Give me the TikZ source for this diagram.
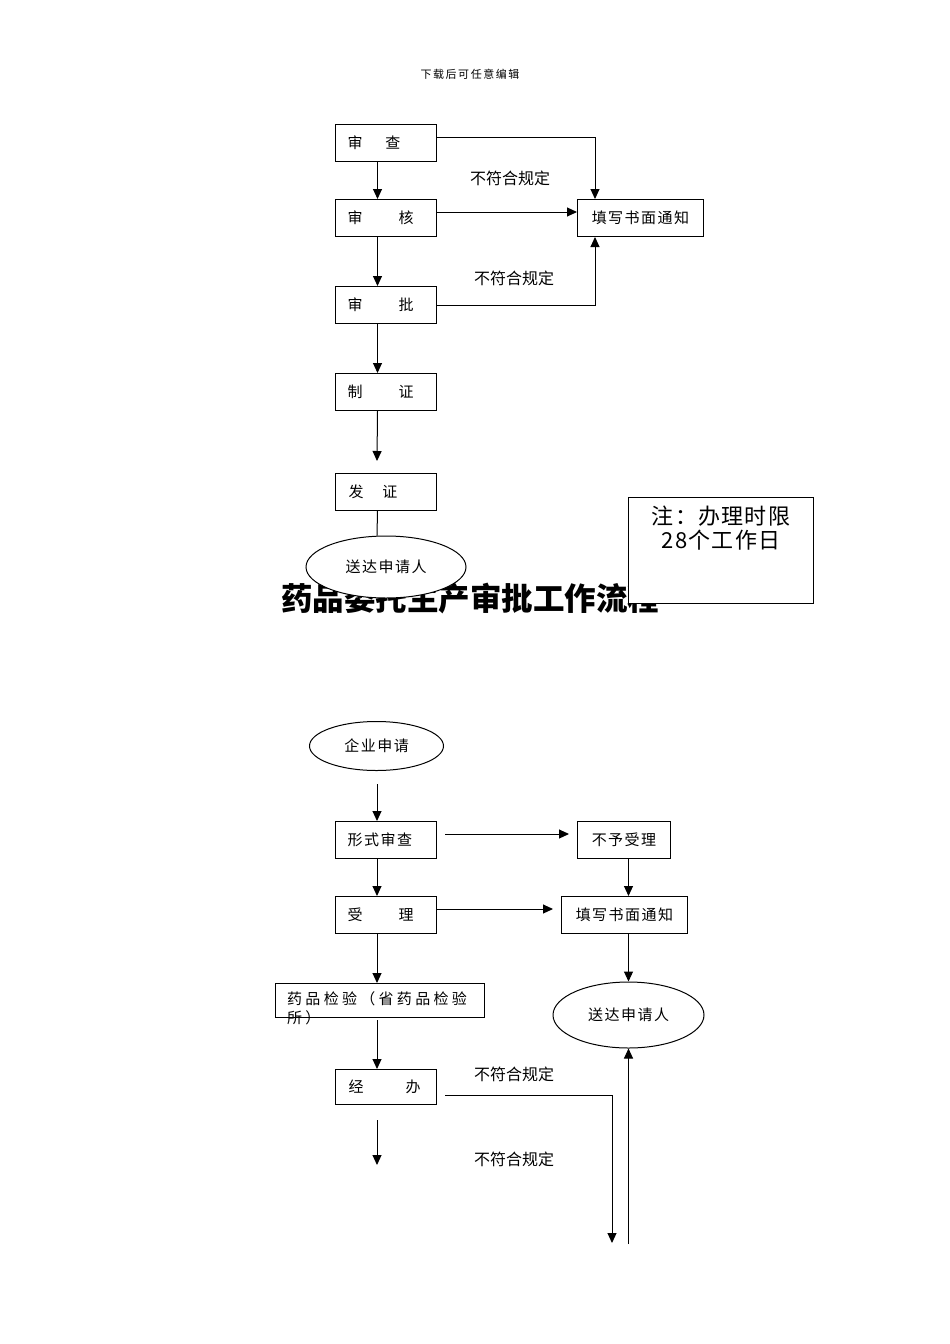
\documentclass[tikz,border=0pt]{standalone}
\usepackage{fontspec}
\setmainfont{Noto Sans CJK SC}
\newfontfamily\cjksp[LetterSpace=10]{Noto Sans CJK SC}
\newfontfamily\cjkwide[LetterSpace=22]{Noto Sans CJK SC}
\newfontfamily\cjkhead[LetterSpace=14]{Noto Sans CJK SC}
\newfontfamily\cjknote[LetterSpace=6]{Noto Sans CJK SC}
\usetikzlibrary{arrows.meta,shapes.geometric}
\tikzset{
  box/.style={draw, line width=1pt, fill=white, minimum height=37pt, inner xsep=8pt, inner ysep=0pt, anchor=north west, font=\fontsize{15}{18}\selectfont},
  oval/.style={draw, ellipse, line width=1pt, fill=white, inner sep=0pt, font=\cjksp\fontsize{15}{18}\selectfont},
  arr/.style={line width=1pt, -{Triangle[length=10pt,width=9pt]}},
  ln/.style={line width=1pt},
  lab/.style={inner sep=0pt, font=\fontsize{16}{18}\selectfont},
}
\newcommand\bt[1]{\raisebox{2pt}{#1}}
\begin{document}
\begin{tikzpicture}[x=1pt,y=-1pt]
\useasboundingbox[fill=white] (0,0) rectangle (950,1344);
% header
\node[inner sep=0pt, font=\cjkhead\fontsize{11}{13}\selectfont] (hd) at (470,74) {下载后可任意编辑};
% title (drawn first, partly covered)
\node[inner sep=0pt, font=\fontsize{31.5}{34}\selectfont\bfseries] (title) at (470,599) {药品委托生产审批工作流程};
% top flow
\node[box] (sc) at (335,124) {\makebox[85pt][l]{\bt{\hspace{4pt}审\hspace{23pt}查}}};
\node[box] (sh) at (335,199) {\makebox[85pt][l]{\bt{\hspace{4pt}审\hspace{36pt}核}}};
\node[box] (sp) at (335,286) {\makebox[85pt][l]{\bt{\hspace{4pt}审\hspace{36pt}批}}};
\node[box] (zz) at (335,373) {\makebox[85pt][l]{\bt{\hspace{4pt}制\hspace{36pt}证}}};
\node[box] (fz) at (335,473) {\makebox[85pt][l]{\bt{\hspace{5pt}发\hspace{19pt}证}}};
\node[box, font=\cjksp\fontsize{15}{18}\selectfont] (tx1) at (577,199) {\makebox[110pt][c]{\bt{填写书面通知}}};
\node[lab] (l1) at (510,178) {不符合规定};
\node[lab] (l2) at (514,278) {不符合规定};
\draw[arr] ([xshift=-8.5pt]sc.south) -- ([xshift=-8.5pt]sh.north);
\draw[arr] ([xshift=-8.5pt]sh.south) -- ([xshift=-8.5pt]sp.north);
\draw[arr] ([xshift=-8.5pt]sp.south) -- ([xshift=-8.5pt]zz.north);
\coordinate (z1) at (377,461);
\draw[arr] ([xshift=-8.5pt]zz.south) -- (z1);
\draw[arr] ([yshift=6pt]sc.east) -| ([xshift=18pt]tx1.north west);
\draw[arr] ([yshift=6pt]sh.east) -- ([yshift=6pt]tx1.west);
\draw[arr] (sp.east) -| ([xshift=18pt]tx1.south west);
\node[oval, minimum width=160pt, minimum height=62pt] (sd1) at (386,567) {送达申请人};
\draw[ln] ([xshift=-8.5pt]fz.south) -- (sd1.north -| z1);
% note
\node[draw, line width=1pt, fill=white, anchor=north west, minimum width=185pt, minimum height=106pt] (note) at (628,497) {};
\node[inner sep=0pt, align=center, font=\cjknote\fontsize{22}{24}\selectfont, anchor=north] (notet) at (721,506) {注：办理时限\\28个工作日};
% bottom flow
\node[oval, minimum width=134pt, minimum height=49pt] (qy) at (376.5,746) {企业申请};
\node[box, font=\cjksp\fontsize{15}{18}\selectfont] (xs) at (335,821) {\makebox[85pt][l]{\bt{\hspace{4pt}形式审查}}};
\node[box, font=\cjksp\fontsize{15}{18}\selectfont] (by) at (577,821) {\makebox[77pt][c]{\bt{不予受理}}};
\node[box] (sl) at (335,896) {\makebox[85pt][l]{\bt{\hspace{4pt}受\hspace{36pt}理}}};
\node[box, font=\cjksp\fontsize{15}{18}\selectfont] (tx2) at (561,896) {\makebox[110pt][c]{\bt{填写书面通知}}};
\node[oval, minimum width=151pt, minimum height=66pt] (sd2) at (628.5,1015) {送达申请人};
\node[draw, line width=1pt, fill=white, anchor=north west, minimum width=209pt, minimum height=34pt, inner sep=0pt] (yp) at (275,983) {};
\node[inner sep=0pt, align=left, anchor=north west, font=\cjkwide\fontsize{15}{19}\selectfont] (ypt) at (287,991) {药品检验（省药品检验\\所）};
\node[box, minimum height=35pt] (jb) at (335,1069) {\makebox[85pt][l]{\bt{\hspace{5pt}经\hspace{42pt}办}}};
\node[lab] (l3) at (514,1074) {不符合规定};
\node[lab] (l4) at (514,1159) {不符合规定};
\coordinate (q1) at (377,784);
\draw[arr] (q1) -- (q1 |- xs.north);
\draw[arr] ([xshift=8pt,yshift=6pt]xs.east) -- ([xshift=-8pt,yshift=6pt]by.west);
\coordinate (bx) at (628.5,858);
\draw[arr] (bx |- by.south) -- (bx |- tx2.north);
\draw[arr] (q1 |- xs.south) -- (q1 |- sl.north);
\draw[arr] ([yshift=6pt]sl.east) -- ([xshift=-8pt,yshift=6pt]tx2.west);
\draw[arr] (bx |- tx2.south) -- (sd2.north);
\draw[arr] (q1 |- sl.south) -- (q1 |- yp.north);
\coordinate (y1) at (377,1020);
\draw[arr] (y1) -- (y1 |- jb.north);
\coordinate (j1) at (377,1120);
\coordinate (j2) at (377,1165);
\draw[arr] (j1) -- (j2);
\coordinate (d1) at (612,1243);
\draw[arr] ([xshift=8pt,yshift=-8pt]jb.east) -| (d1);
\coordinate (u1) at (628.5,1244);
\draw[arr] (u1) -- (sd2.south);
\end{tikzpicture}
\end{document}
